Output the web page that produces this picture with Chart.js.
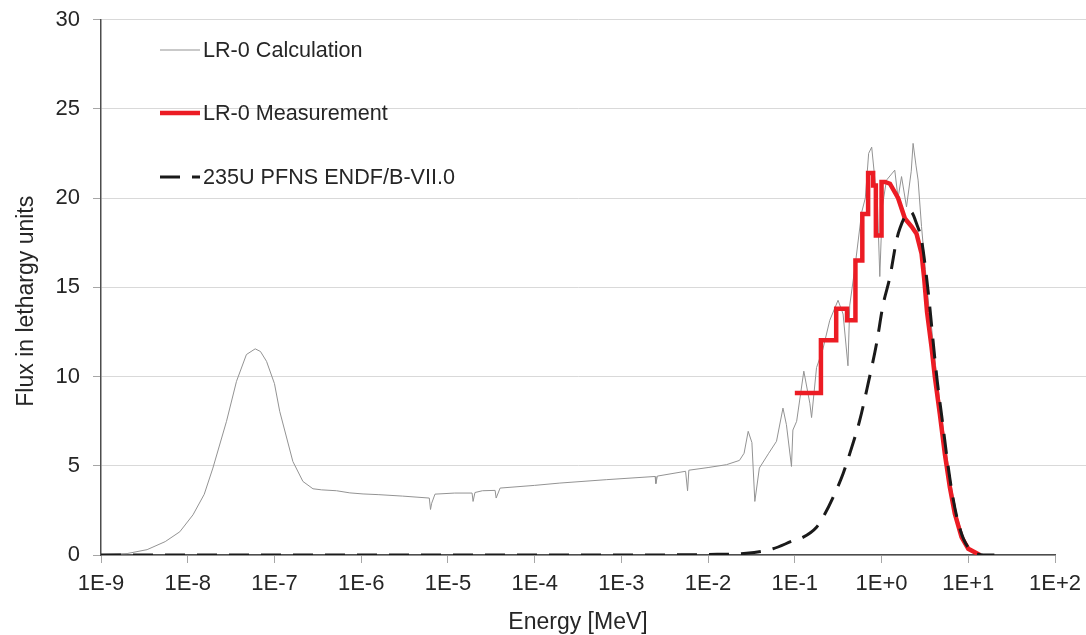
<!DOCTYPE html>
<html>
<head>
<meta charset="utf-8">
<script src="https://cdn.jsdelivr.net/npm/chart.js@4.4.1/dist/chart.umd.min.js"></script>
<style>
  html, body { margin: 0; padding: 0; background: #fff; }
  #wrap { width: 1086px; height: 635px; position: relative; }
</style>
</head>
<body>
<div id="wrap"><canvas id="js-flux-chart"></canvas></div>
<script>
"use strict";

// x-axis ticks (MeV) and labels
const tickValues = [1e-9, 1e-8, 1e-7, 1e-6, 1e-5, 1e-4, 1e-3, 1e-2, 1e-1, 1e0, 1e1, 1e2];
const tickLabels = ["1E-9", "1E-8", "1E-7", "1E-6", "1E-5", "1E-4", "1E-3", "1E-2", "1E-1", "1E+0", "1E+1", "1E+2"];

const seriesNames = ["LR-0 Calculation", "LR-0 Measurement", "235U PFNS ENDF/B-VII.0"];
const yTitle = "Flux in lethargy units";
const xTitle = "Energy [MeV]";

// LR-0 Calculation
const calcEnergy = [
  1e-9, 2e-9, 3.4e-9, 5.5e-9, 8.1e-9, 1.15e-8, 1.55e-8, 1.95e-8, 2.8e-8, 3.65e-8,
  4.75e-8, 6.0e-8, 6.9e-8, 8.1e-8, 1.0e-7, 1.15e-7, 1.63e-7, 2.13e-7, 2.78e-7, 3.5e-7,
  5.2e-7, 7.4e-7, 1.05e-6, 1.6e-6, 3e-6, 6.1e-6, 6.3e-6, 6.5e-6, 7.1e-6, 1.2e-5,
  1.9e-5, 1.95e-5, 2.05e-5, 2.5e-5, 3.5e-5, 3.6e-5, 4.0e-5, 1e-4, 1.95e-4, 6.7e-4,
  2.45e-3, 2.5e-3, 2.6e-3, 5.5e-3, 5.8e-3, 6.0e-3, 1.0e-2, 1.63e-2, 2.3e-2, 2.6e-2,
  2.9e-2, 3.2e-2, 3.46e-2, 3.9e-2, 5.0e-2, 6.15e-2, 7.3e-2, 8.0e-2, 9.15e-2, 9.5e-2,
  0.105, 0.127, 0.149, 0.156, 0.178, 0.21, 0.253, 0.315, 0.36, 0.41,
  0.43, 0.49, 0.59, 0.65, 0.71, 0.77, 0.84, 0.9, 0.955, 1.02,
  1.14, 1.42, 1.55, 1.7, 1.94, 2.2, 2.31, 2.5, 2.64, 2.89,
  3.2, 3.5, 3.8, 4.2, 4.8, 5.5, 6.3, 7.2, 8.6, 10, 13, 17
];
const calcFlux = [
  0.03, 0.08, 0.3, 0.75, 1.3, 2.25, 3.4, 4.87, 7.49, 9.73,
  11.23, 11.55, 11.4, 10.85, 9.6, 8.05, 5.24, 4.12, 3.71, 3.65,
  3.6, 3.48, 3.42, 3.38, 3.3, 3.19, 2.55, 2.9, 3.41, 3.47,
  3.47, 3.0, 3.5, 3.6, 3.62, 3.19, 3.75, 3.9, 4.03, 4.22,
  4.4, 4.0, 4.42, 4.69, 3.6, 4.75, 4.9, 5.06, 5.3, 5.7,
  6.93, 6.3, 3.0, 4.87, 5.7, 6.37, 8.23, 7.3, 4.96, 7.0,
  7.49, 10.3, 8.5, 7.7, 10.5, 11.5, 13.15, 14.27, 13.5, 10.6,
  14.0, 16.0, 19.2, 20.0, 22.5, 22.85, 21.0, 19.5, 15.6, 19.5,
  21.0, 21.56, 20.0, 21.2, 19.5, 21.5, 23.06, 21.8, 21.0, 18.4,
  16.0, 14.0, 12.6, 10.6, 8.2, 6.0, 4.0, 2.4, 1.1, 0.4, 0.06, 0
];

// LR-0 Measurement (histogram corners)
const measEnergy = [
  0.1, 0.2, 0.2, 0.3, 0.3, 0.4, 0.4, 0.5, 0.5, 0.6, 0.6, 0.7, 0.7, 0.8, 0.8, 0.86, 0.86, 1.0, 1.0,
  1.1, 1.25, 1.55, 1.86, 2.22, 2.53, 2.89, 3.1, 3.35, 3.77, 4.12, 4.7, 5.37, 6.13, 7.0, 8.37, 10, 13.6
];
const measFlux = [
  9.07, 9.07, 12.03, 12.03, 13.8, 13.8, 13.15, 13.15, 16.5, 16.5, 19.1, 19.1, 21.4, 21.4, 20.7, 20.7, 17.9, 17.9, 20.9,
  20.9, 20.8, 20.0, 18.85, 18.4, 18.0, 16.9, 15.5, 13.6, 11.66, 9.97, 7.9, 5.66, 3.8, 2.31, 1.0, 0.35, 0
];

// 235U PFNS ENDF/B-VII.0
const pfnsEnergy = [
  1e-9, 1e-3, 5e-3, 9.6e-3, 0.0277, 0.056, 0.0955, 0.125, 0.178, 0.212,
  0.277, 0.36, 0.43, 0.56, 0.70, 0.875, 1.04, 1.25, 1.49, 1.63,
  1.86, 2.12, 2.22, 2.53, 2.89, 3.3, 3.6, 4.0, 4.4, 5.0,
  5.7, 6.5, 7.4, 8.8, 10.5, 14, 20
];
const pfnsFlux = [
  0, 0, 0.01, 0.03, 0.1, 0.35, 0.8, 1.0, 1.56, 2.12,
  3.24, 4.55, 5.68, 7.54, 9.6, 11.84, 14.0, 15.58, 17.64, 18.3,
  18.95, 19.23, 19.2, 18.57, 17.64, 15.58, 13.9, 11.6, 9.7, 7.6,
  5.4, 3.5, 2.1, 0.9, 0.3, 0.02, 0
];

function toPoints(xs, ys) {
  return xs.map((x, i) => ({ x: x, y: ys[i] }));
}

const FONT = "'Liberation Sans', Arial, sans-serif";
const TEXT = "#262626";
const AXIS = "#4d4d4d";
const GRID = "#d9d9d9";

// gridlines in the picture run on past the last tick to the right edge
const gridRunOn = {
  id: "gridRunOn",
  beforeDatasetsDraw(chart) {
    const ctx = chart.ctx;
    const yScale = chart.scales.y;
    ctx.save();
    ctx.strokeStyle = GRID;
    ctx.lineWidth = 1;
    yScale.ticks.forEach((t) => {
      if (t.value === 0) return;
      const y = Math.round(yScale.getPixelForValue(t.value) - 0.5) + 0.5;
      ctx.beginPath();
      ctx.moveTo(chart.chartArea.right - 2, y);
      ctx.lineTo(chart.width, y);
      ctx.stroke();
    });
    ctx.restore();
  },
};

// y title, a little below the middle of the axis as in the picture
const yTitleDraw = {
  id: "yTitleDraw",
  afterDraw(chart) {
    const ctx = chart.ctx;
    const area = chart.chartArea;
    ctx.save();
    ctx.translate(27, (area.top + area.bottom) / 2 + 14);
    ctx.rotate(-Math.PI / 2);
    ctx.font = "23px " + FONT;
    ctx.fillStyle = TEXT;
    ctx.textAlign = "center";
    ctx.textBaseline = "middle";
    ctx.fillText(yTitle, 0, 0);
    ctx.restore();
  },
};

// legend drawn inside the plot, top left
const insideLegend = {
  id: "insideLegend",
  afterDraw(chart) {
    const ctx = chart.ctx;
    const area = chart.chartArea;
    const x0 = area.left + 59;
    const x1 = area.left + 99;
    const rows = [30.5, 93.5, 157.5];
    ctx.save();
    ctx.font = "21.6px " + FONT;
    ctx.textBaseline = "middle";
    ctx.fillStyle = TEXT;
    chart.data.datasets.forEach((ds, i) => {
      const y = area.top + rows[i];
      ctx.beginPath();
      ctx.strokeStyle = ds.borderColor;
      ctx.lineWidth = ds.borderWidth;
      ctx.setLineDash(ds.borderDash || []);
      ctx.moveTo(x0, y);
      ctx.lineTo(x1, y);
      ctx.stroke();
      ctx.setLineDash([]);
      ctx.fillText(ds.label, x1 + 3, y + 1);
    });
    ctx.restore();
  },
};

const ctx = document.getElementById("js-flux-chart").getContext("2d");
const fluxChart = new Chart(ctx, {
  type: "line",
  data: {
    datasets: [
      {
        label: seriesNames[0],
        data: toPoints(calcEnergy, calcFlux),
        borderColor: "#939393",
        borderWidth: 1,
        pointRadius: 0,
        tension: 0,
        order: 3,
      },
      {
        label: seriesNames[1],
        data: toPoints(measEnergy, measFlux),
        borderColor: "#ec1c24",
        borderWidth: 4.5,
        pointRadius: 0,
        tension: 0,
        borderJoinStyle: "miter",
        order: 2,
      },
      {
        label: seriesNames[2],
        data: toPoints(pfnsEnergy, pfnsFlux),
        borderColor: "#1a1a1a",
        borderWidth: 3,
        borderDash: [20, 12],
        pointRadius: 0,
        cubicInterpolationMode: "monotone",
        order: 1,
      },
    ],
  },
  options: {
    responsive: true,
    maintainAspectRatio: false,
    animation: false,
    layout: { padding: { top: 19.5, right: 31, left: 0, bottom: 0 } },
    scales: {
      x: {
        type: "logarithmic",
        min: 1e-9,
        max: 1e2,
        afterBuildTicks: (scale) => {
          scale.ticks = tickValues.map((v) => ({ value: v }));
        },
        afterFit: (scale) => {
          scale.height = 80;
          scale.paddingLeft = 0;
          scale.paddingRight = 0;
        },
        grid: {
          drawOnChartArea: false,
          drawTicks: true,
          tickLength: 8,
          tickColor: "#a6a6a6",
        },
        border: { color: AXIS, width: 1.5 },
        ticks: {
          autoSkip: false,
          maxRotation: 0,
          minRotation: 0,
          padding: 8,
          color: TEXT,
          font: { family: FONT, size: 22 },
          callback: function (value, index) {
            return tickLabels[index];
          },
        },
        title: {
          display: true,
          text: xTitle,
          color: TEXT,
          font: { family: FONT, size: 23, lineHeight: 1 },
          padding: { top: 0, bottom: 1 },
        },
      },
      y: {
        min: 0,
        max: 30,
        afterFit: (scale) => {
          scale.width = 101;
          scale.paddingTop = 0;
          scale.paddingBottom = 0;
        },
        grid: {
          color: GRID,
          lineWidth: 1,
          tickLength: 8,
          tickColor: "#a6a6a6",
        },
        border: { color: AXIS, width: 1.5 },
        ticks: {
          stepSize: 5,
          padding: 13,
          color: TEXT,
          font: { family: FONT, size: 22 },
        },
        title: { display: false },
      },
    },
    plugins: {
      legend: { display: false },
      tooltip: { enabled: false },
    },
  },
  plugins: [gridRunOn, yTitleDraw, insideLegend],
});
</script>
</body>
</html>
